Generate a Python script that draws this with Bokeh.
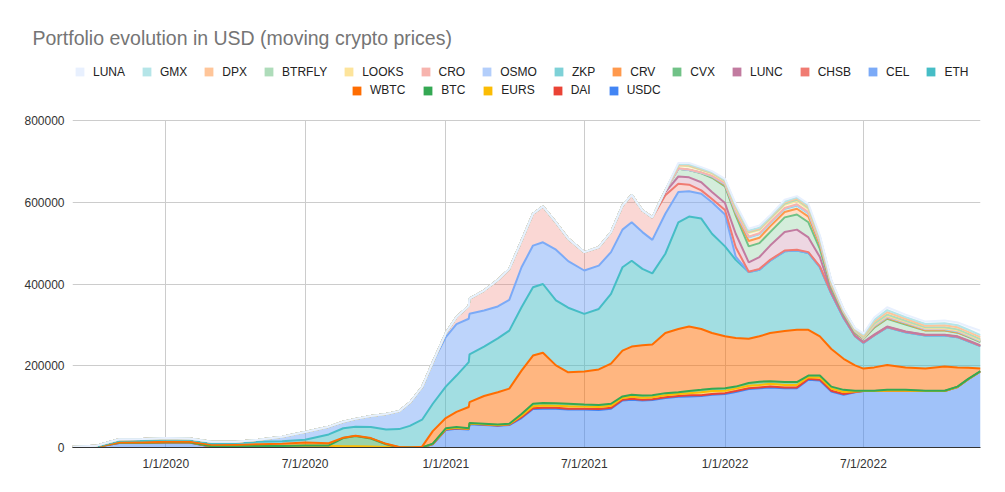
import pandas as pd
from bokeh.plotting import figure
from bokeh.models import (ColumnDataSource, Range1d, FixedTicker, DatetimeTickFormatter,
                          NumeralTickFormatter, Legend, LegendItem, Title)
from bokeh.embed import file_html
from bokeh.resources import INLINE

# ---------------- data (values in thousands of USD) ----------------
dates = ["2019-09-01", "2019-10-01", "2019-11-01", "2019-12-01", "2020-01-01", "2020-02-01", "2020-03-01", "2020-04-01", "2020-05-01", "2020-06-01",
         "2020-07-01", "2020-08-01", "2020-08-20", "2020-09-05", "2020-09-25", "2020-10-15", "2020-11-01", "2020-11-15", "2020-12-01", "2020-12-15",
         "2021-01-01", "2021-01-15", "2021-01-31", "2021-02-01", "2021-02-20", "2021-03-10", "2021-03-25", "2021-04-10", "2021-04-25", "2021-05-08",
         "2021-05-25", "2021-06-10", "2021-07-01", "2021-07-20", "2021-08-05", "2021-08-20", "2021-09-01", "2021-09-15", "2021-09-28", "2021-10-15",
         "2021-11-01", "2021-11-15", "2021-12-01", "2021-12-15", "2022-01-01", "2022-01-15", "2022-02-01", "2022-02-15", "2022-03-01", "2022-03-20",
         "2022-04-05", "2022-04-20", "2022-05-05", "2022-05-20", "2022-06-05", "2022-06-20", "2022-07-01", "2022-07-15", "2022-08-01", "2022-08-25",
         "2022-09-20", "2022-10-15", "2022-11-01", "2022-11-15", "2022-12-01"]

USDC = [0, 1, 11, 11, 12, 12, 2, 2, 2, 2,
        2, 2, 1, 1, 1, 0.5, 0, 0, 0, 8,
        43, 46, 44, 57, 55, 53, 55, 72, 94, 95,
        95, 93, 93, 92, 95, 115, 117, 115, 116, 121,
        124, 125, 126, 129, 131, 136, 143, 145, 147, 145,
        145, 166, 164, 137, 129, 135, 138, 138, 139, 139,
        138, 138, 148, 167, 186]
DAI = [0, 0, 0, 0, 0, 0, 0, 0, 0, 0,
       0, 0, 0, 0, 0, 0, 0, 0, 0, 0.5,
       1, 1, 1, 1, 1, 1, 1, 2, 2, 2,
       2, 2, 2, 2, 2, 2, 2, 2, 2, 2,
       2, 3, 2, 2, 2, 2, 2, 2, 2, 2,
       2, 2, 2, 2, 2, 1, 0, 0, 0, 0,
       0, 0, 0, 0, 0]
EURS = [0, 0, 1, 1, 1, 1, 1, 1, 1.5, 1.5,
        3, 2, 2, 2, 1.5, 1, 0.5, 0, 0, 0.5,
        1, 1, 1, 1, 1, 1, 1, 4, 5, 6,
        5, 6, 5, 5, 5, 4, 5, 5, 5, 5,
        5, 5, 7, 7, 6, 6, 6, 6, 7, 6,
        6, 4, 5, 5, 5, 1, 0, 0, 0, 0,
        0, 0, 0, 0, 0]
BTC = [0, 0, 0, 0, 0, 0, 0, 0, 0, 0,
       0, 1, 20, 25, 19.5, 6.5, 0, 0, 0, 0.5,
       2, 2, 1, 1, 1, 1, 1, 4, 6, 6,
       6, 6, 5, 5, 5, 4, 5, 5, 5, 5,
       4, 5, 6, 6, 6, 5, 7, 8, 6, 7,
       7, 4, 5, 5, 5, 2, 1, 1, 2, 2,
       1, 1, 1, 1, 1]
WBTC = [0, 0, 1, 1, 1, 1, 3.5, 3.5, 4.5, 5.5,
        7, 5.5, 1, 1, 1, 1, 0.5, 0, 2, 30.5,
        25, 37, 52, 51, 68, 79, 86, 106, 118, 123,
        93, 77, 81, 87, 98, 112, 118, 123, 124, 147,
        155, 158, 149, 136, 127, 119, 108, 111, 118, 125,
        128, 112, 96, 92, 76, 62, 54, 57, 61, 55,
        54, 59, 47, 27, 6]
ETH = [0, 1, 3.5, 4, 5, 5, 4, 4.5, 6, 6.5,
       7, 21.5, 23, 22, 27, 35, 44, 53, 66, 67,
       77, 89, 110, 117, 121, 132, 142, 155, 167, 168,
       159, 158, 141, 148, 171, 204, 210, 187, 174, 194,
       261, 269, 270, 243, 220, 191, 163, 163, 177, 195,
       194, 188, 169, 135, 100, 71, 63, 78, 92, 86,
       81, 76, 74, 65, 55]
CEL = [2, 2, 3.5, 4, 4, 3, 3.5, 3, 5, 11,
       19, 19, 16, 19, 27, 38, 44, 57, 80, 102,
       121, 126, 106, 99, 88, 78, 75, 98, 102, 102,
       124, 114, 106, 106, 102, 92, 94, 90, 82, 98,
       74, 62, 61, 77, 78, 8, 0, 0, 0, 0,
       0, 0, 0, 0, 0, 0, 0, 0, 0, 0,
       0, 0, 0, 0, 0]
CHSB = [0, 0, 0, 0, 0, 0, 0, 0, 0, 0,
        0, 0, 0, 0, 0, 0, 0, 0, 0, 0,
        10, 17, 31, 37, 49, 65, 76, 65, 78, 88,
        67, 55, 45, 45, 49, 59, 67, 53, 55, 45,
        20, 16, 8, 8, 11, 23, 1, 2, 2, 2,
        2, 2, 2, 2, 2, 1, 1, 1, 1, 1,
        1, 1, 1, 1, 1]
LUNC = [0, 0, 0, 0, 0, 0, 0, 0, 0, 0,
        0, 0, 0, 0, 0, 0, 0, 0, 0, 0,
        0, 0, 0, 0, 0, 0, 0, 0, 0, 0,
        0, 0, 0, 0, 0, 0, 0, 0, 0, 8,
        18, 18, 20, 17, 17, 33, 23, 29, 35, 45,
        49, 36, 23, 2, 1, 1, 1, 1, 1, 1,
        1, 1, 1, 1, 1]
CVX = [0, 0, 0, 0, 0, 0, 0, 0, 0, 0,
       0, 0, 0, 0, 0, 0, 0, 0, 0, 0,
       0, 0, 0, 0, 0, 0, 0, 0, 0, 0,
       0, 0, 0, 0, 0, 0, 0, 0, 0, 4,
       19, 18, 22, 35, 41, 45, 39, 34, 33, 36,
       37, 37, 20, 10, 6, 6, 8, 17, 19, 17,
       10, 10, 9, 9, 8]
CRV = [0, 0, 0, 0, 0, 0, 0, 0, 0, 0,
       0, 0, 0, 0, 0, 0, 0, 0, 0, 0,
       0, 0, 0, 0, 0, 0, 0, 0, 0, 0,
       0, 0, 0, 0, 0, 0, 0, 0, 0, 0,
       0, 0, 1, 2, 3, 5, 13, 13, 14, 13,
       14, 14, 10, 5, 3, 2, 1, 2, 2, 2,
       1, 1, 1, 1, 1]
ZKP = [0, 0, 0, 0, 0, 0, 0, 0, 0, 0,
       0, 0, 0, 0, 0, 0, 0, 0, 0, 0,
       0, 0, 0, 0, 0, 0, 0, 0, 0, 0,
       0, 0, 0, 0, 0, 0, 0, 0, 0, 0,
       0, 0, 0, 1, 2, 3, 9, 9, 8, 8,
       8, 8, 6, 3, 2, 2, 1, 2, 2, 2,
       2, 2, 2, 1, 1]
OSMO = [0, 0, 0, 0, 0, 0, 0, 0, 0, 0,
        0, 0, 0, 0, 0, 0, 0, 0, 0, 0,
        0, 0, 0, 0, 0, 0, 0, 0, 0, 0,
        0, 0, 0, 0, 0, 0, 0, 0, 0, 0,
        0, 0, 0, 1, 1, 2, 1, 1, 1, 1,
        1, 1, 1, 1, 1, 1, 0, 1, 1, 1,
        1, 1, 1, 1, 1]
CRO = [0, 0, 0, 0, 0, 0, 0, 0, 0, 0,
       0, 0, 0, 0, 0, 0, 0, 0, 0, 0,
       0, 0, 0, 0, 0, 0, 0, 0, 0, 0,
       0, 0, 0, 0, 0, 0, 0, 0, 0, 0,
       1, 1, 1, 1, 2, 3, 1, 1, 1, 1,
       2, 2, 2, 1, 1, 1, 0, 1, 1, 1,
       1, 1, 1, 1, 1]
LOOKS = [0, 0, 0, 0, 0, 0, 0, 0, 0, 0,
         0, 0, 0, 0, 0, 0, 0, 0, 0, 0,
         0, 0, 0, 0, 0, 0, 0, 0, 0, 0,
         0, 0, 0, 0, 0, 0, 0, 0, 0, 0,
         7, 8, 6, 5, 4, 5, 9, 8, 8, 8,
         8, 7, 5, 3, 2, 1, 1, 2, 2, 1,
         1, 1, 1, 1, 1]
BTRFLY = [0, 0, 0, 0, 0, 0, 0, 0, 0, 0,
          0, 0, 0, 0, 0, 0, 0, 0, 0, 0,
          0, 0, 0, 0, 0, 0, 0, 0, 0, 0,
          0, 0, 0, 0, 0, 0, 0, 0, 0, 0,
          1, 2, 1, 2, 2, 3, 2, 2, 2, 2,
          3, 3, 2, 2, 1, 1, 1, 2, 2, 2,
          2, 2, 2, 2, 2]
DPX = [0, 0, 0, 0, 0, 0, 0, 0, 0, 0,
       0, 0, 0, 0, 0, 0, 0, 0, 0, 0,
       0, 0, 0, 0, 0, 0, 0, 0, 0, 0,
       0, 0, 0, 0, 0, 0, 0, 0, 0, 0,
       1, 1, 1, 1, 1, 2, 2, 2, 2, 3,
       3, 3, 2, 2, 1, 2, 3, 5, 6, 5,
       4, 5, 5, 5, 5]
GMX = [0, 0, 0, 0, 0, 0, 0, 0, 0, 0,
       0, 0, 0, 0, 0, 0, 0, 0, 0, 0,
       0, 0, 0, 0, 0, 0, 0, 0, 0, 0,
       0, 0, 0, 0, 0, 0, 0, 0, 0, 0,
       1, 2, 2, 1, 1, 2, 2, 2, 2, 3,
       3, 3, 2, 1, 1, 1, 3, 4, 5, 4,
       4, 5, 5, 5, 5]
LUNA = [0, 0, 0, 0, 0, 0, 0, 0, 0, 0,
        0, 0, 0, 0, 0, 0, 0, 0, 0, 0,
        0, 0, 0, 0, 0, 0, 0, 0, 0, 0,
        0, 0, 0, 0, 0, 0, 0, 0, 0, 0,
        3, 3, 3, 2, 2, 3, 4, 5, 3, 4,
        3, 4, 3, 2, 1, 1, 3, 6, 7, 6,
        6, 7, 7, 8, 11]

# stacking order, bottom -> top
names = ["USDC", "DAI", "EURS", "BTC", "WBTC", "ETH", "CEL", "CHSB", "LUNC", "CVX",
         "CRV", "ZKP", "OSMO", "CRO", "LOOKS", "BTRFLY", "DPX", "GMX", "LUNA"]
series = [USDC, DAI, EURS, BTC, WBTC, ETH, CEL, CHSB, LUNC, CVX,
          CRV, ZKP, OSMO, CRO, LOOKS, BTRFLY, DPX, GMX, LUNA]
colors = ["#4285f4", "#ea4335", "#fbbc04", "#34a853", "#ff6d01", "#46bdc6", "#7baaf7",
          "#f07b72", "#c27ba0", "#71c287", "#ff994d", "#7ed1d7", "#b3cefb", "#f7b4ae",
          "#fde49b", "#aedcba", "#ffc599", "#b5e5e8", "#e8f0fe"]
alphas = [0.5, 0.5, 0.5, 0.5, 0.5, 0.5, 0.5,
          0.3, 0.3, 0.3, 0.3, 0.3, 0.3, 0.3, 0.3, 0.3, 0.3, 0.3, 0.3]
legend_row1 = ["LUNA", "GMX", "DPX", "BTRFLY", "LOOKS", "CRO", "OSMO", "ZKP", "CRV",
               "CVX", "LUNC", "CHSB", "CEL", "ETH"]
legend_row2 = ["WBTC", "BTC", "EURS", "DAI", "USDC"]
x_ticks = ["2020-01-01", "2020-07-01", "2021-01-01", "2021-07-01", "2022-01-01", "2022-07-01"]
y_ticks = [0, 200000, 400000, 600000, 800000]
title_text = "Portfolio evolution in USD (moving crypto prices)"

for s in series:
    assert len(s) == len(dates)

data = {"date": pd.to_datetime(dates)}
for n, s in zip(names, series):
    data[n] = [v * 1000 for v in s]
src = ColumnDataSource(data)

def ms(d):
    return pd.Timestamp(d).value / 1e6

FONT = "Liberation Sans"
NAN = float("nan")

# layout (pixels): frame spans x 72..980, y 55..447; the value axis 0..800000 fills y 120..447
TOP, PLOT_TOP, BOTTOM = 55, 120, 447
y_end = y_ticks[-1] * (BOTTOM - TOP) / (BOTTOM - PLOT_TOP)

p = figure(width=1005, height=492, output_backend="svg", toolbar_location=None,
           title=None, x_axis_type="datetime",
           x_range=Range1d(ms("2019-09-01"), ms("2022-12-01")),
           y_range=Range1d(0, y_end),
           min_border_left=72, min_border_right=25, min_border_top=TOP,
           min_border_bottom=492 - BOTTOM)
p.outline_line_color = None

p.varea_stack(stackers=names, x="date", source=src, fill_color=colors, fill_alpha=alphas)
p.vline_stack(stackers=names, x="date", source=src, line_color=colors, line_width=2)

tick_ms = [ms(d) for d in x_ticks]
p.xaxis.ticker = FixedTicker(ticks=tick_ms)
fmt = "%-m/%-d/%Y"
p.xaxis.formatter = DatetimeTickFormatter(days=fmt, months=fmt, years=fmt)
p.yaxis.ticker = FixedTicker(ticks=y_ticks)
p.yaxis.formatter = NumeralTickFormatter(format="0")
for ax in (p.xaxis, p.yaxis):
    ax.major_tick_line_color = None
    ax.minor_tick_line_color = None
    ax.major_label_text_font = FONT
    ax.major_label_text_font_size = "12px"
    ax.major_label_text_color = "#333333"
p.yaxis.axis_line_color = None
p.yaxis.major_label_standoff = 2
p.xaxis.axis_line_color = "#333333"
p.xaxis.axis_line_width = 1
p.xaxis.major_label_standoff = 3
p.ygrid.grid_line_color = "#cccccc"

# vertical grid lines only up to the top value tick
xg = p.xgrid[0]
if "cross_bounds" in xg.properties():
    xg.grid_line_color = "#cccccc"
    xg.cross_bounds = (0, y_ticks[-1])
else:
    xg.visible = False
    p.segment(x0=tick_ms, x1=tick_ms, y0=[0] * len(tick_ms), y1=[y_ticks[-1]] * len(tick_ms),
              line_color="#cccccc", line_width=1, level="underlay")

# solid legend swatches (renderers without visible data)
swatch = {}
for n, c in zip(names, colors):
    swatch[n] = p.quad(left=[NAN], right=[NAN], top=[NAN], bottom=[NAN],
                       fill_color=c, line_color=None)

def make_legend(row, loc, spacing):
    return Legend(items=[LegendItem(label=n, renderers=[swatch[n]]) for n in row],
                  orientation="horizontal", location=loc,
                  glyph_width=11, glyph_height=11, label_standoff=8, spacing=spacing,
                  padding=0, margin=0, border_line_color=None, background_fill_alpha=0,
                  label_text_font=FONT, label_text_font_size="12px",
                  label_text_color="#222222", label_height=14)

# legend rows inside the (extended) frame; location = bottom-left corner in frame pixels
p.add_layout(make_legend(legend_row1, (2, BOTTOM - 78.7), 16))
p.add_layout(make_legend(legend_row2, (279, BOTTOM - 97), 17))

p.add_layout(Title(text=title_text, align="left", offset=-40, standoff=14,
                   text_font=FONT, text_font_size="19.5px", text_color="#757575",
                   text_font_style="normal"), "above")

open("out.html", "w").write(file_html(p, INLINE))
